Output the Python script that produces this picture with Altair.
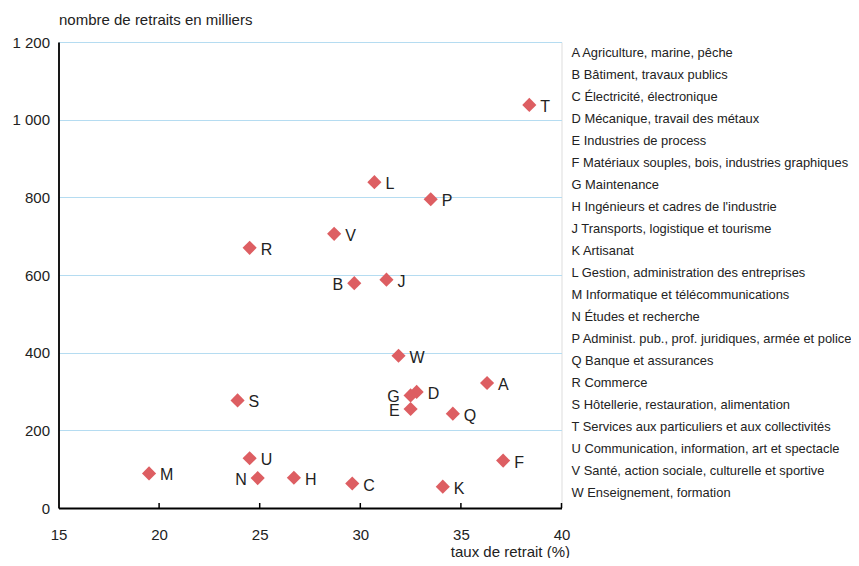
import altair as alt
import pandas as pd

# --- data ---
codes = ["A", "B", "C", "D", "E", "F", "G", "H", "J", "K", "L",
         "M", "N", "P", "Q", "R", "S", "T", "U", "V", "W"]
taux = [36.3, 29.7, 29.6, 32.8, 32.5, 37.1, 32.5, 26.7, 31.3, 34.1, 30.7,
        19.5, 24.9, 33.5, 34.6, 24.5, 23.9, 38.4, 24.5, 28.7, 31.9]
retraits = [322, 579, 63, 299, 255, 122, 290, 78, 588, 55, 839,
            89, 77, 795, 243, 670, 277, 1038, 128, 706, 392]
names = [
    "Agriculture, marine, pêche",
    "Bâtiment, travaux publics",
    "Électricité, électronique",
    "Mécanique, travail des métaux",
    "Industries de process",
    "Matériaux souples, bois, industries graphiques",
    "Maintenance",
    "Ingénieurs et cadres de l'industrie",
    "Transports, logistique et tourisme",
    "Artisanat",
    "Gestion, administration des entreprises",
    "Informatique et télécommunications",
    "Études et recherche",
    "Administ. pub., prof. juridiques, armée et police",
    "Banque et assurances",
    "Commerce",
    "Hôtellerie, restauration, alimentation",
    "Services aux particuliers et aux collectivités",
    "Communication, information, art et spectacle",
    "Santé, action sociale, culturelle et sportive",
    "Enseignement, formation",
]
left_labels = ["B", "G", "E", "N"]
x_ticks = [20, 25, 30, 35, 40]

x_title = "taux de retrait (%)"
y_title = "nombre de retraits en milliers"

FONT = "Liberation Sans"
TXT = "#222222"
W, H = 503, 466

df = pd.DataFrame({"code": codes, "taux": taux, "retraits": retraits})
df["side"] = ["left" if c in left_labels else "right" for c in codes]
leg = pd.DataFrame({"idx": list(range(len(codes))),
                    "label": [c + " " + n for c, n in zip(codes, names)]})
ticks_df = pd.DataFrame({"t": x_ticks})

xscale = alt.Scale(domain=[15, 40], nice=False, zero=False)
yscale = alt.Scale(domain=[0, 1200], nice=False)

base = alt.Chart(df)

points = base.mark_point(shape="diamond", filled=True, size=200,
                         color="#dd5e62", opacity=1).encode(
    x=alt.X("taux:Q", scale=xscale, title=x_title,
            axis=alt.Axis(values=[15, 20, 25, 30, 35, 40], ticks=False, tickSize=0,
                          grid=False, domainColor="black", domainWidth=1.8,
                          labelFont=FONT, labelFontSize=15, labelColor=TXT,
                          labelPadding=19, labelFlush=False,
                          titleFont=FONT, titleFontSize=15, titleFontWeight="normal",
                          titleColor=TXT, titleAnchor="end", titleAlign="right",
                          titleX=W + 8, titleY=43, titleBaseline="middle")),
    y=alt.Y("retraits:Q", scale=yscale, title=y_title,
            axis=alt.Axis(values=[0, 200, 400, 600, 800, 1000, 1200],
                          ticks=False, tickSize=0, grid=True,
                          gridColor="#b5dcf1", gridWidth=1.2,
                          domainColor="black", domainWidth=1.8,
                          labelFont=FONT, labelFontSize=15, labelColor=TXT,
                          labelPadding=9,
                          labelExpr="replace(format(datum.value, ','), ',', ' ')",
                          titleFont=FONT, titleFontSize=15, titleFontWeight="normal",
                          titleColor=TXT, titleAngle=0, titleAlign="left",
                          titleBaseline="middle", titleX=0, titleY=-23)),
)

lab_right = base.transform_filter(alt.datum.side == "right").mark_text(
    align="left", baseline="middle", dx=11, dy=2, font=FONT, fontSize=16, color=TXT
).encode(x=alt.X("taux:Q", scale=xscale), y=alt.Y("retraits:Q", scale=yscale), text="code:N")

lab_left = base.transform_filter(alt.datum.side == "left").mark_text(
    align="right", baseline="middle", dx=-11, dy=2, font=FONT, fontSize=16, color=TXT
).encode(x=alt.X("taux:Q", scale=xscale), y=alt.Y("retraits:Q", scale=yscale), text="code:N")

tick_marks = alt.Chart(ticks_df).mark_rule(color="black", strokeWidth=1.5).encode(
    x=alt.X("t:Q", scale=xscale),
    y=alt.value(H - 5), y2=alt.value(H))

legend = alt.Chart(leg).mark_text(
    align="left", baseline="middle", font=FONT, fontSize=12.9, color=TXT
).encode(
    x=alt.value(W + 10),
    y=alt.Y("idx:O", scale=alt.Scale(type="point", range=[11, 451], padding=0), axis=None),
    text="label:N")

main = alt.layer(points, tick_marks, lab_right, lab_left)

chart = alt.layer(main, legend).resolve_scale(
    y="independent"
).properties(
    width=W, height=H,
    autosize=alt.AutoSizeParams(type="none"),
    padding={"left": 50.5, "top": 34, "right": 289, "bottom": 50},
).configure_view(stroke=None).configure(background="white")

chart.save("out.html", embed_options={"renderer": "svg", "actions": False})
